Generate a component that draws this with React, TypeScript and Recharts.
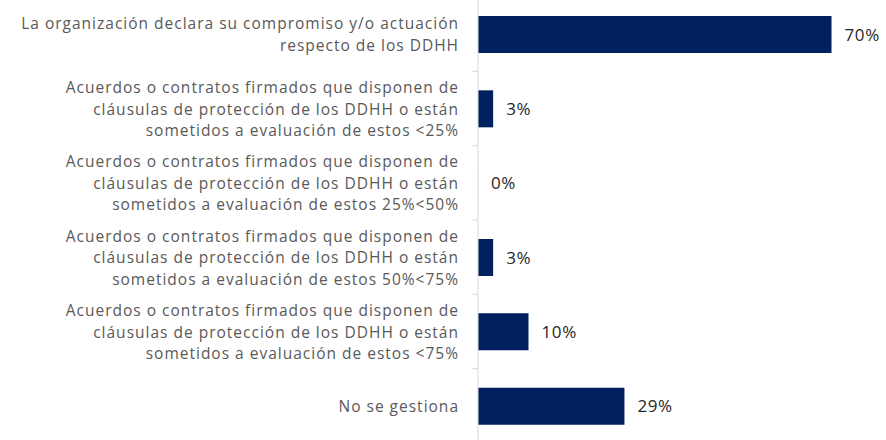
import { BarChart, Bar, XAxis, YAxis, LabelList } from 'recharts'

const categories = [
  'La organización declara su compromiso y/o actuación\nrespecto de los DDHH',
  'Acuerdos o contratos firmados que disponen de\ncláusulas de protección de los DDHH o están\nsometidos a evaluación de estos <25%',
  'Acuerdos o contratos firmados que disponen de\ncláusulas de protección de los DDHH o están\nsometidos a evaluación de estos 25%<50%',
  'Acuerdos o contratos firmados que disponen de\ncláusulas de protección de los DDHH o están\nsometidos a evaluación de estos 50%<75%',
  'Acuerdos o contratos firmados que disponen de\ncláusulas de protección de los DDHH o están\nsometidos a evaluación de estos <75%',
  'No se gestiona',
]
const values = [70, 3, 0, 3, 10, 29]

const data = categories.map((name, i) => ({ name, value: values[i] }))

const WIDTH = 886
const HEIGHT = 446
const AXIS_WIDTH = 478
const band = HEIGHT / categories.length
const lineHeight = 21.5
const font = "'Open Sans', sans-serif"

function CategoryTick(props: any) {
  const { x, y, payload } = props
  const lines: string[] = String(payload.value).split('\n')
  const startY = y - ((lines.length - 1) * lineHeight) / 2
  return (
    <g>
      <line x1={x - 6} x2={x} y1={y + band / 2} y2={y + band / 2} stroke="#d9d9d9" />
      <text
        x={x - 19}
        y={startY}
        textAnchor="end"
        dominantBaseline="central"
        fill="#595959"
        fontSize={15.5}
        letterSpacing={1}
        fontFamily={font}
      >
        {lines.map((line, i) => (
          <tspan key={i} x={x - 19} y={startY + i * lineHeight}>
            {line}
          </tspan>
        ))}
      </text>
    </g>
  )
}

export default function App() {
  return (
    <div
      style={{
        position: 'fixed',
        left: 0,
        top: 0,
        width: WIDTH,
        height: 440,
        overflow: 'hidden',
        background: '#fff',
      }}
    >
      <div style={{ position: 'absolute', left: 0, top: -3 }}>
        <BarChart
          width={WIDTH}
          height={HEIGHT}
          data={data}
          layout="vertical"
          margin={{ top: 0, right: 4, bottom: 0, left: 0 }}
        >
          <XAxis type="number" domain={[0, 80]} hide />
          <YAxis
            type="category"
            dataKey="name"
            width={AXIS_WIDTH}
            axisLine={{ stroke: '#d9d9d9' }}
            tickLine={false}
            tickSize={0}
            tickMargin={0}
            tick={<CategoryTick />}
            interval={0}
          />
          <Bar
            dataKey="value"
            fill="#002060"
            barSize={37}
            minPointSize={0.01}
            isAnimationActive={false}
          >
            <LabelList
              dataKey="value"
              position="right"
              offset={13}
              formatter={(v: any) => `${v}%`}
              fill="#262626"
              fontSize={17}
              letterSpacing={0.6}
              fontFamily={font}
            />
          </Bar>
        </BarChart>
      </div>
    </div>
  )
}
